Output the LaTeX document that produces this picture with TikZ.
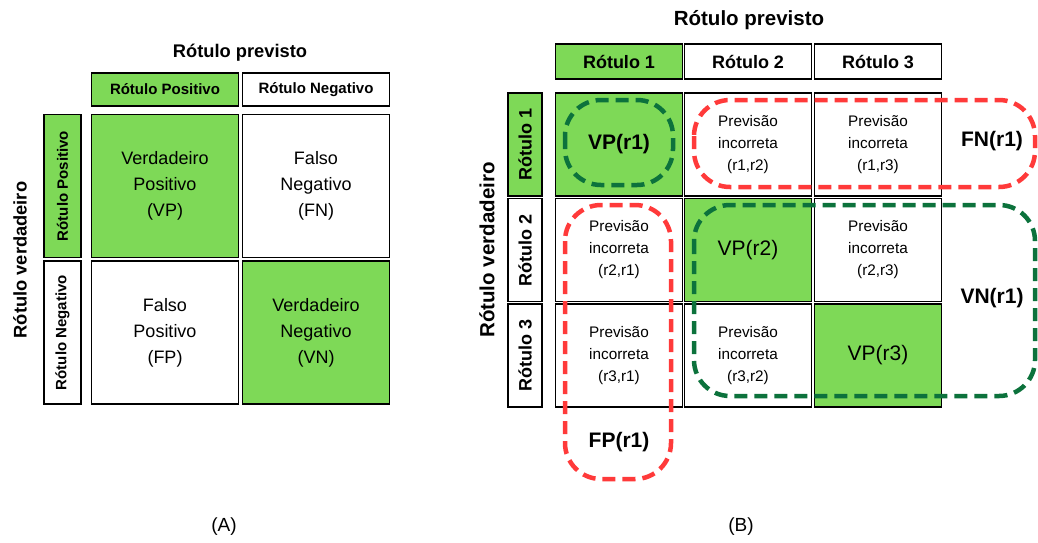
\documentclass[tikz,border=0pt]{standalone}
\usepackage{fontspec}
\setmainfont{Liberation Sans}
\usepackage{tikz}
\definecolor{verde}{RGB}{126,217,87}
\definecolor{verdeescuro}{RGB}{12,114,60}
\definecolor{vermelho}{RGB}{255,58,58}

\begin{document}
\begin{tikzpicture}[x=1pt,y=-1pt]
      \tikzset{tituloA/.style={font=\bfseries\fontsize{18.3}{22}\selectfont},
        tituloB/.style={font=\bfseries\fontsize{20.5}{24}\selectfont},
        caixa/.style={draw,line width=1.8pt,inner sep=0pt,align=center},
        celA/.style={caixa,minimum width=147pt,minimum height=143pt,
          font=\fontsize{18}{26}\selectfont},
        cabA/.style={caixa,minimum width=147pt,minimum height=33pt,
          font=\bfseries\fontsize{15}{18}\selectfont},
        ladoA/.style={caixa,rotate=90,minimum width=143pt,minimum height=37pt,
          font=\bfseries\fontsize{15}{18}\selectfont},
        celB/.style={caixa,minimum width=127pt,minimum height=103pt,
          font=\fontsize{15.3}{22}\selectfont},
        cabB/.style={caixa,minimum width=127pt,minimum height=35pt,
          font=\bfseries\fontsize{18}{21}\selectfont},
        ladoB/.style={caixa,rotate=90,minimum width=103pt,minimum height=34pt,
          font=\bfseries\fontsize{18}{21}\selectfont},
        grande/.style={font=\fontsize{21}{24}\selectfont},
        rotulo/.style={font=\bfseries\fontsize{21}{24}\selectfont},
        legenda/.style={font=\fontsize{19}{22}\selectfont},
        grupo/.style={line width=4.5pt,dash pattern=on 13pt off 7pt,rounded corners=36pt}
      }
      \useasboundingbox (0,0) rectangle (1038,542);
      % (A) binaria
      \node [tituloA] (titA) at (240,53) {Rótulo previsto};
      \node [cabA,fill=verde] (cabApos) at (165,89.5) {Rótulo Positivo};
      \node [cabA] (cabAneg) at (316,89.5) {Rótulo Negativo};
      \node [tituloA,rotate=90] (verdA) at (20,260) {Rótulo verdadeiro};
      \node [ladoA,fill=verde] (ladoApos) at (62.5,186) {Rótulo Positivo};
      \node [ladoA] (ladoAneg) at (62.5,332.5) {Rótulo Negativo};
      \node [celA,fill=verde] (VP) at (165,186) {Verdadeiro\\Positivo\\(VP)};
      \node [celA] (FN) at (316,186) {Falso\\Negativo\\(FN)};
      \node [celA] (FP) at (165,332.5) {Falso\\Positivo\\(FP)};
      \node [celA,fill=verde] (VN) at (316,332.5) {Verdadeiro\\Negativo\\(VN)};
      \node [legenda] (legA) at (224,527) {(A)};
      % (B) tres rotulos
      \node [tituloB] (titB) at (749,20) {Rótulo previsto};
      \node [cabB,fill=verde] (cab1) at (619,61.5) {Rótulo 1};
      \node [cabB] (cab2) at (748,61.5) {Rótulo 2};
      \node [cabB] (cab3) at (878,61.5) {Rótulo 3};
      \node [tituloB,rotate=90] (verdB) at (487,250) {Rótulo verdadeiro};
      \node [ladoB,fill=verde] (lado1) at (525,144.5) {Rótulo 1};
      \node [ladoB] (lado2) at (525,250) {Rótulo 2};
      \node [ladoB] (lado3) at (525,355.5) {Rótulo 3};
      \node [celB,fill=verde,rotulo] (c11) at (619,144.5) {VP(r1)};
      \node [celB] (c12) at (748,144.5) {Previsão\\incorreta\\(r1,r2)};
      \node [celB] (c13) at (878,144.5) {Previsão\\incorreta\\(r1,r3)};
      \node [celB] (c21) at (619,250) {Previsão\\incorreta\\(r2,r1)};
      \node [celB,fill=verde,grande] (c22) at (748,250) {VP(r2)};
      \node [celB] (c23) at (878,250) {Previsão\\incorreta\\(r2,r3)};
      \node [celB] (c31) at (619,355.5) {Previsão\\incorreta\\(r3,r1)};
      \node [celB] (c32) at (748,355.5) {Previsão\\incorreta\\(r3,r2)};
      \node [celB,fill=verde,grande] (c33) at (878,355.5) {VP(r3)};
      \draw [grupo,verdeescuro] (565,100) rectangle (673,185);
      \draw [grupo,vermelho] (694,100) rectangle (1035,187);
      \draw [grupo,verdeescuro] (694,205) rectangle (1035,396);
      \draw [grupo,vermelho] (565,205) rectangle (671,479);
      \node [rotulo] (FNr1) at (992,141) {FN(r1)};
      \node [rotulo] (VNr1) at (992,298) {VN(r1)};
      \node [rotulo] (FPr1) at (619,442) {FP(r1)};
      \node [legenda] (legB) at (741,527) {(B)};
\end{tikzpicture}
\end{document}
